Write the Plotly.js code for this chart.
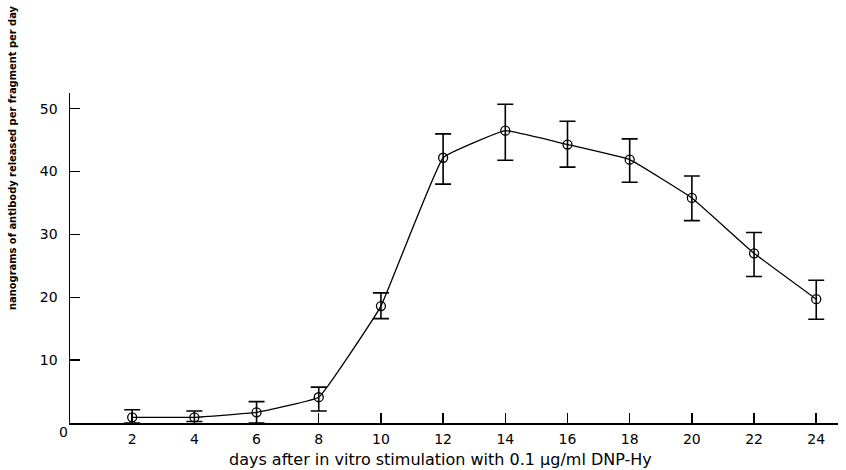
<!DOCTYPE html>
<html>
<head>
<meta charset="utf-8">
<script src="https://cdn.plot.ly/plotly-3.0.1.min.js"></script>
<style>html,body{margin:0;padding:0;background:#fff;}#chart{width:846px;height:470px;}</style>
</head>
<body>
<div id="chart"></div>
<script>
var days = [2, 4, 6, 8, 10, 12, 14, 16, 18, 20, 22, 24];
var antibody = [0.9, 0.9, 1.7, 4.1, 18.6, 42.2, 46.5, 44.3, 41.9, 35.8, 27.0, 19.7];
var errUpper = [1.2, 1.0, 1.7, 1.6, 2.1, 3.8, 4.2, 3.7, 3.3, 3.5, 3.3, 3.0];
var errLower = [0.9, 0.65, 1.7, 2.2, 2.0, 4.2, 4.7, 3.6, 3.6, 3.6, 3.7, 3.2];
var xTicks = [2, 4, 6, 8, 10, 12, 14, 16, 18, 20, 22, 24];
var yTicks = [10, 20, 30, 40, 50];

var trace = {
  x: days, y: antibody, type: 'scatter', mode: 'lines+markers',
  line: {color: '#000', width: 1.3, shape: 'spline', smoothing: 0.25},
  marker: {symbol: 'circle-open', size: 9, color: '#000', line: {width: 1.3, color: '#000'}},
  error_y: {type: 'data', symmetric: false, array: errUpper, arrayminus: errLower,
            color: '#000', thickness: 1.6, width: 8},
  showlegend: false, cliponaxis: false
};

var font = {family: 'DejaVu Sans, sans-serif', color: '#000'};
var layout = {
  width: 846, height: 470,
  margin: {l: 70, r: 8, t: 93, b: 47},
  paper_bgcolor: '#fff', plot_bgcolor: '#fff',
  xaxis: {range: [0, 24.7], tickvals: xTicks, ticktext: xTicks.map(String),
          ticks: 'inside', ticklen: 10, tickwidth: 1.5, tickcolor: '#000',
          showline: true, linecolor: '#000', linewidth: 1.5, showgrid: false, zeroline: false,
          tickfont: Object.assign({size: 14}, font), ticklabelstandoff: 3, fixedrange: true},
  yaxis: {range: [0, 52.5], tickvals: yTicks, ticktext: yTicks.map(String),
          ticks: 'inside', ticklen: 10, tickwidth: 1.5, tickcolor: '#000',
          showline: true, linecolor: '#000', linewidth: 1.5, showgrid: false, zeroline: false,
          tickfont: Object.assign({size: 14}, font), ticklabelstandoff: 8, fixedrange: true},
  annotations: [
    {text: '0', xref: 'paper', yref: 'paper', x: 0, y: 0, xshift: -7, yshift: -9,
     showarrow: false, xanchor: 'center', yanchor: 'middle', font: Object.assign({size: 14}, font)},
    {text: 'days after in vitro stimulation with 0.1 μg/ml DNP-Hy', xref: 'paper', yref: 'paper',
     x: 0.482, y: 0, yshift: -36, showarrow: false, xanchor: 'center', yanchor: 'middle',
     font: Object.assign({size: 16}, font)},
    {text: '<b>nanograms of antibody released per fragment per day</b>', xref: 'paper', yref: 'paper',
     x: 0, y: 1, xshift: -58, yshift: -65, showarrow: false, textangle: -90,
     xanchor: 'center', yanchor: 'middle',
     font: {family: 'DejaVu Sans Condensed, DejaVu Sans, sans-serif', size: 11, color: '#000'}}
  ]
};
Plotly.newPlot('chart', [trace], layout, {staticPlot: true});
</script>
</body>
</html>
